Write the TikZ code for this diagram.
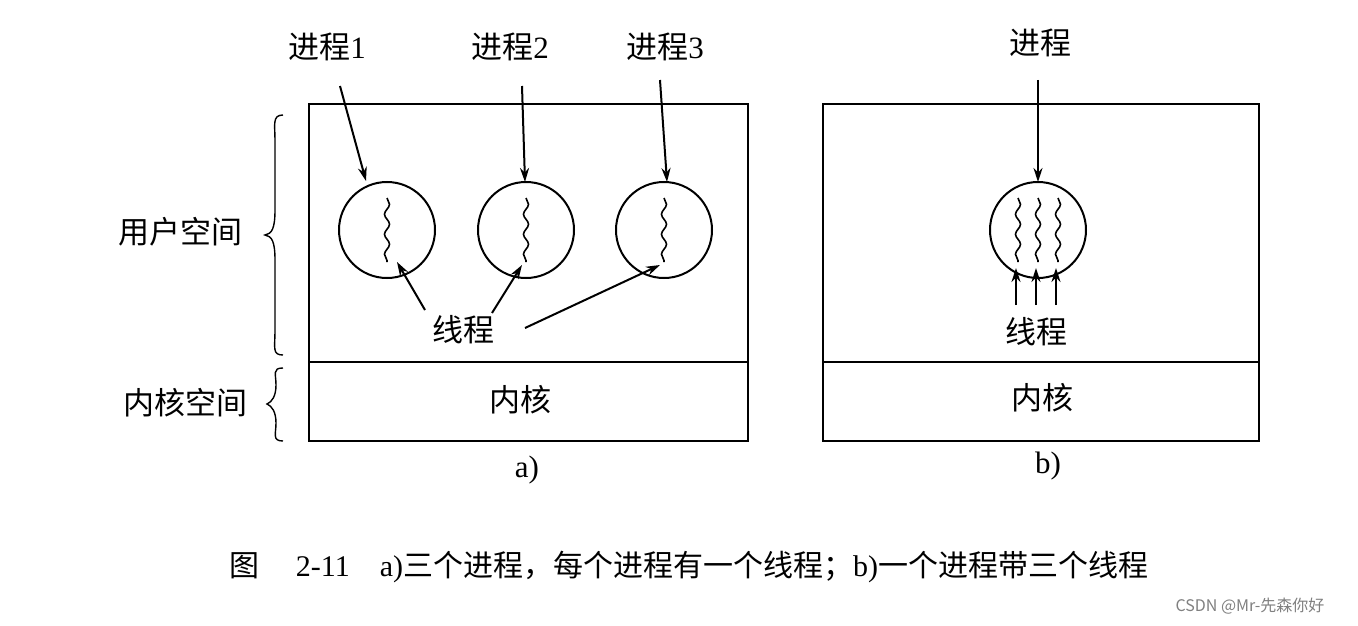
\documentclass[tikz,border=0pt]{standalone}
\usepackage{fontspec}
\setmainfont{Liberation Serif}
\newfontfamily\cjk{Noto Sans CJK SC}
\usetikzlibrary{decorations.pathmorphing,arrows.meta}
\begin{document}
\begin{tikzpicture}[x=1pt,y=-1pt,
  lbl/.style={font=\fontsize{31}{34}\selectfont},
  arr/.style={line width=2pt,-{Stealth[length=14pt,width=9pt]}},
  box/.style={draw,line width=2.2pt},
  wav/.style={line width=1.6pt,decorate,decoration={snake,amplitude=2.5pt,segment length=20pt}}]
\useasboundingbox[fill=white] (0,0) rectangle (1358,626);
\draw[box] (309,104) rectangle (748,441);
\draw[box] (309,362) -- (748,362);
\draw[box] (823,104) rectangle (1259,441);
\draw[box] (823,362) -- (1259,362);
\foreach \n/\x in {c1/387,c2/526,c3/664,c4/1038}{\node[circle,draw,line width=2pt,minimum size=96pt,inner sep=0] (\n) at (\x,230) {};}
\foreach \x in {387,526,664,1018,1038,1058}{\draw[wav] (\x,198) -- (\x,262);}
\node[lbl] (p1) at (327,47) {{\cjk 进程}1};
\node[lbl] (p2) at (510,47) {{\cjk 进程}2};
\node[lbl] (p3) at (665,47) {{\cjk 进程}3};
\node[lbl] (p4) at (1040,43) {\cjk 进程};
\coordinate (s1) at (340,86); \coordinate (s2) at (522,86); \coordinate (s3) at (660,80); \coordinate (s4) at (1038,80);
\draw[arr] (s1) -- (366,181);
\draw[arr] (s2) -- (525,182);
\draw[arr] (s3) -- (667,182);
\draw[arr] (s4) -- (1038,182);
\node[lbl] (t1) at (463,330) {\cjk 线程};
\draw[arr] (425,310) -- (397,262);
\draw[arr] (492,313) -- (522,265);
\draw[arr] (525,328) -- (660,265);
\node[lbl] (t2) at (1036,332) {\cjk 线程};
\foreach \x in {1016,1036,1056}{\draw[arr] (\x,305) -- (\x,268);}
\node[lbl] (k1) at (520,400) {\cjk 内核};
\node[lbl] (k2) at (1042,398) {\cjk 内核};
\node[lbl] (u) at (180,232) {\cjk 用户空间};
\node[lbl] (ks) at (185,403) {\cjk 内核空间};
\draw[line width=1.4pt] (283,115) .. controls (272,115) and (275,125) .. (275,140) -- (275,210) .. controls (275,228) and (272,234) .. (265,235) .. controls (272,236) and (275,242) .. (275,260) -- (275,330) .. controls (275,348) and (272,355) .. (283,355);
\draw[line width=1.4pt] (283,368) .. controls (272,368) and (276,374) .. (276,385) .. controls (276,396) and (272,402) .. (267,404) .. controls (272,406) and (276,412) .. (276,423) .. controls (276,434) and (272,441) .. (283,441);
\node[lbl] (la) at (527,470) {a)};
\node[lbl] (lb) at (1048,466) {b)};
\node[font=\fontsize{30}{34}\selectfont] (cap) at (689,567) {{\cjk 图}\hspace{1.2em}2-11\hspace{1em}a){\cjk 三个进程，每个进程有一个线程；}b){\cjk 一个进程带三个线程}};
\node[font=\fontsize{16}{18}\selectfont\cjk,text=gray] (wm) at (1250,606) {CSDN @Mr-先森你好};
\end{tikzpicture}
\end{document}
